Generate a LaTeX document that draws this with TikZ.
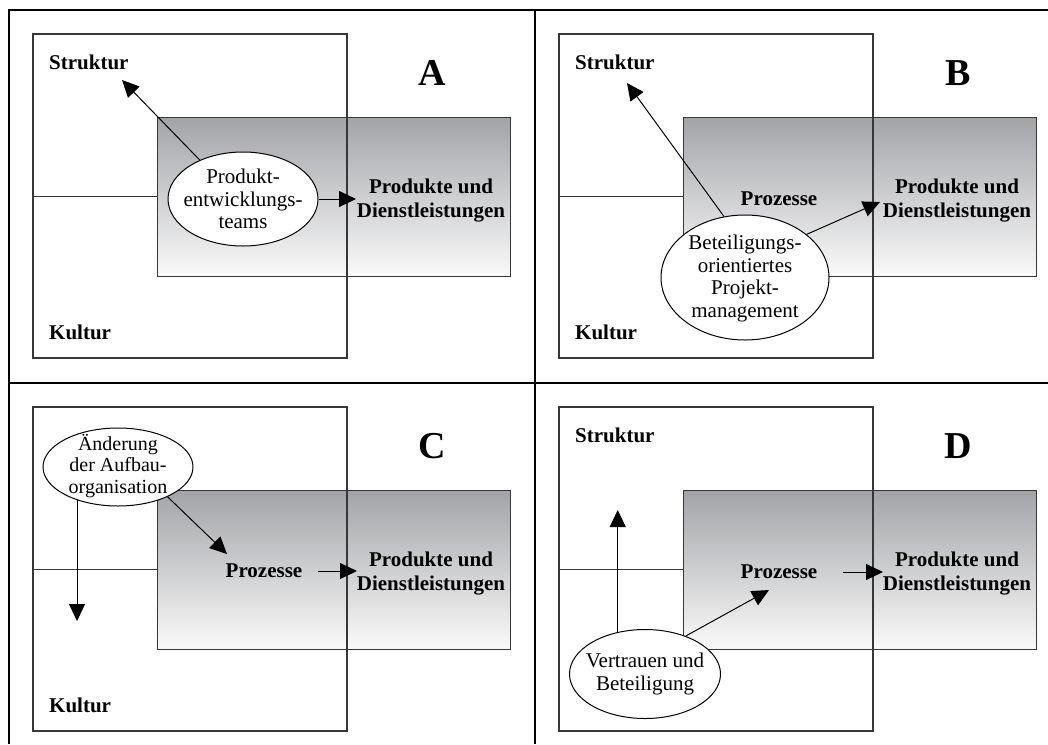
\documentclass[tikz,border=0pt]{standalone}
\usepackage{fontspec}
\setmainfont{Liberation Serif}
\usetikzlibrary{arrows.meta,shapes.geometric}

\definecolor{shadetop}{RGB}{163,164,168}
\definecolor{shadebot}{RGB}{250,250,250}
\definecolor{boxline}{RGB}{55,55,55}

\tikzset{
  frameline/.style={line width=2pt, black},
  sqline/.style={line width=1.2pt, draw=boxline},
  midline/.style={line width=1pt, draw=boxline},
  graybox/.style={rectangle, draw=boxline, line width=1.2pt, top color=shadetop,
    bottom color=shadebot, inner sep=0, minimum width=353pt, minimum height=159pt,
    anchor=north west},
  lbl/.style={font=\bfseries\fontsize{21}{24}\selectfont, inner sep=0, align=center},
  bigletter/.style={font=\bfseries\fontsize{38}{42}\selectfont, inner sep=0},
  ell/.style={ellipse, draw, fill=white, line width=1pt, inner sep=0},
  etext/.style={inner sep=0, align=center, font=\fontsize{21}{22.5}\selectfont},
  arr/.style={-{Triangle[length=17pt,width=16pt]}, line width=1pt},
}

\begin{document}
\begin{tikzpicture}[x=1pt, y=-1pt]
\useasboundingbox (0,0) rectangle (1048,744);

% outer frame and quadrant dividers
\draw[frameline] (9,744) -- (9,10) -- (1048,10);
\draw[frameline] (535,10) -- (535,744);
\draw[frameline] (9,383) -- (1048,383);

% ---------- panel A ----------
\begin{scope}[shift={(9,10)}]
  \node[graybox] (A-box) at (148,107) {};
  \draw[sqline] (24,24) rectangle (338,348);
  \draw[midline] (24,186) -- (148,186);
  \node[lbl, anchor=west] (A-str) at (40,52) {Struktur};
  \node[lbl, anchor=west] (A-kul) at (40,322) {Kultur};
  \node[bigletter] (A-let) at (423,63) {A};
  \node[lbl] (A-prod) at (422,191) {Produkte und\\Dienstleistungen};
  \node[ell, minimum width=150pt, minimum height=94pt] (A-e) at (234,189) {};
  \node[etext] (A-et) at (A-e) {Produkt-\\entwicklungs-\\teams};
  \coordinate (A-t1) at (113,70);
  \coordinate (A-t2) at (347,189);
  \draw[arr] (A-e.138) -- (A-t1);
  \draw[arr] (A-e.east) -- (A-t2);
\end{scope}

% ---------- panel B ----------
\begin{scope}[shift={(535,10)}]
  \node[graybox] (B-box) at (148,107) {};
  \draw[sqline] (24,24) rectangle (338,348);
  \draw[midline] (24,186) -- (148,186);
  \node[lbl, anchor=west] (B-str) at (40,52) {Struktur};
  \node[lbl, anchor=west] (B-kul) at (40,322) {Kultur};
  \node[bigletter] (B-let) at (423,63) {B};
  \node[lbl] (B-proz) at (244,189) {Prozesse};
  \node[lbl] (B-prod) at (422,191) {Produkte und\\Dienstleistungen};
  \node[ell, minimum width=168pt, minimum height=125pt] (B-e) at (210,267.5) {};
  \node[etext] (B-et) at ([yshift=-1pt]B-e.center)
    {Beteiligungs-\\orientiertes\\Projekt-\\management};
  \coordinate (B-t1) at (92,73);
  \coordinate (B-t2) at (345,192);
  \draw[arr] (B-e.109) -- (B-t1);
  \draw[arr] (B-e.35) -- (B-t2);
\end{scope}

% ---------- panel C ----------
\begin{scope}[shift={(9,383)}]
  \node[graybox] (C-box) at (148,107) {};
  \draw[sqline] (24,24) rectangle (338,348);
  \draw[midline] (24,186) -- (148,186);
  \node[lbl, anchor=west] (C-kul) at (40,322) {Kultur};
  \node[bigletter] (C-let) at (423,63) {C};
  \node[lbl] (C-proz) at (255,188) {Prozesse};
  \node[lbl] (C-prod) at (422,191) {Produkte und\\Dienstleistungen};
  \node[ell, minimum width=150pt, minimum height=78pt] (C-e) at (109,84) {};
  \node[etext, font=\fontsize{20}{21.5}\selectfont] (C-et) at ([yshift=1pt]C-e.center)
    {Änderung\\der Aufbau-\\organisation};
  \coordinate (C-t1) at (69,238);
  \coordinate (C-t2) at (218,171);
  \coordinate (C-t3) at (348,188);
  \draw[arr] (C-e.219) -- (C-e.219 |- C-t1);
  \draw[arr] (C-e.329) -- (C-t2);
  \draw[arr] ([xshift=16pt]C-proz.east) -- (C-t3);
\end{scope}

% ---------- panel D ----------
\begin{scope}[shift={(535,383)}]
  \node[graybox] (D-box) at (148,107) {};
  \draw[sqline] (24,24) rectangle (338,348);
  \draw[midline] (24,186) -- (148,186);
  \node[lbl, anchor=west] (D-str) at (40,52) {Struktur};
  \node[bigletter] (D-let) at (423,63) {D};
  \node[lbl] (D-proz) at (244,189) {Prozesse};
  \node[lbl] (D-prod) at (422,191) {Produkte und\\Dienstleistungen};
  \node[ell, minimum width=151pt, minimum height=89pt] (D-e) at (110,291) {};
  \node[etext] (D-et) at (D-e) {Vertrauen und\\Beteiligung};
  \coordinate (D-t1) at (83,127);
  \coordinate (D-t2) at (234,207);
  \coordinate (D-t3) at (348,189);
  \draw[arr] (D-e.123.5) -- (D-e.123.5 |- D-t1);
  \draw[arr] (D-e.43) -- (D-t2);
  \draw[arr] ([xshift=25pt]D-proz.east) -- (D-t3);
\end{scope}
\end{tikzpicture}
\end{document}
